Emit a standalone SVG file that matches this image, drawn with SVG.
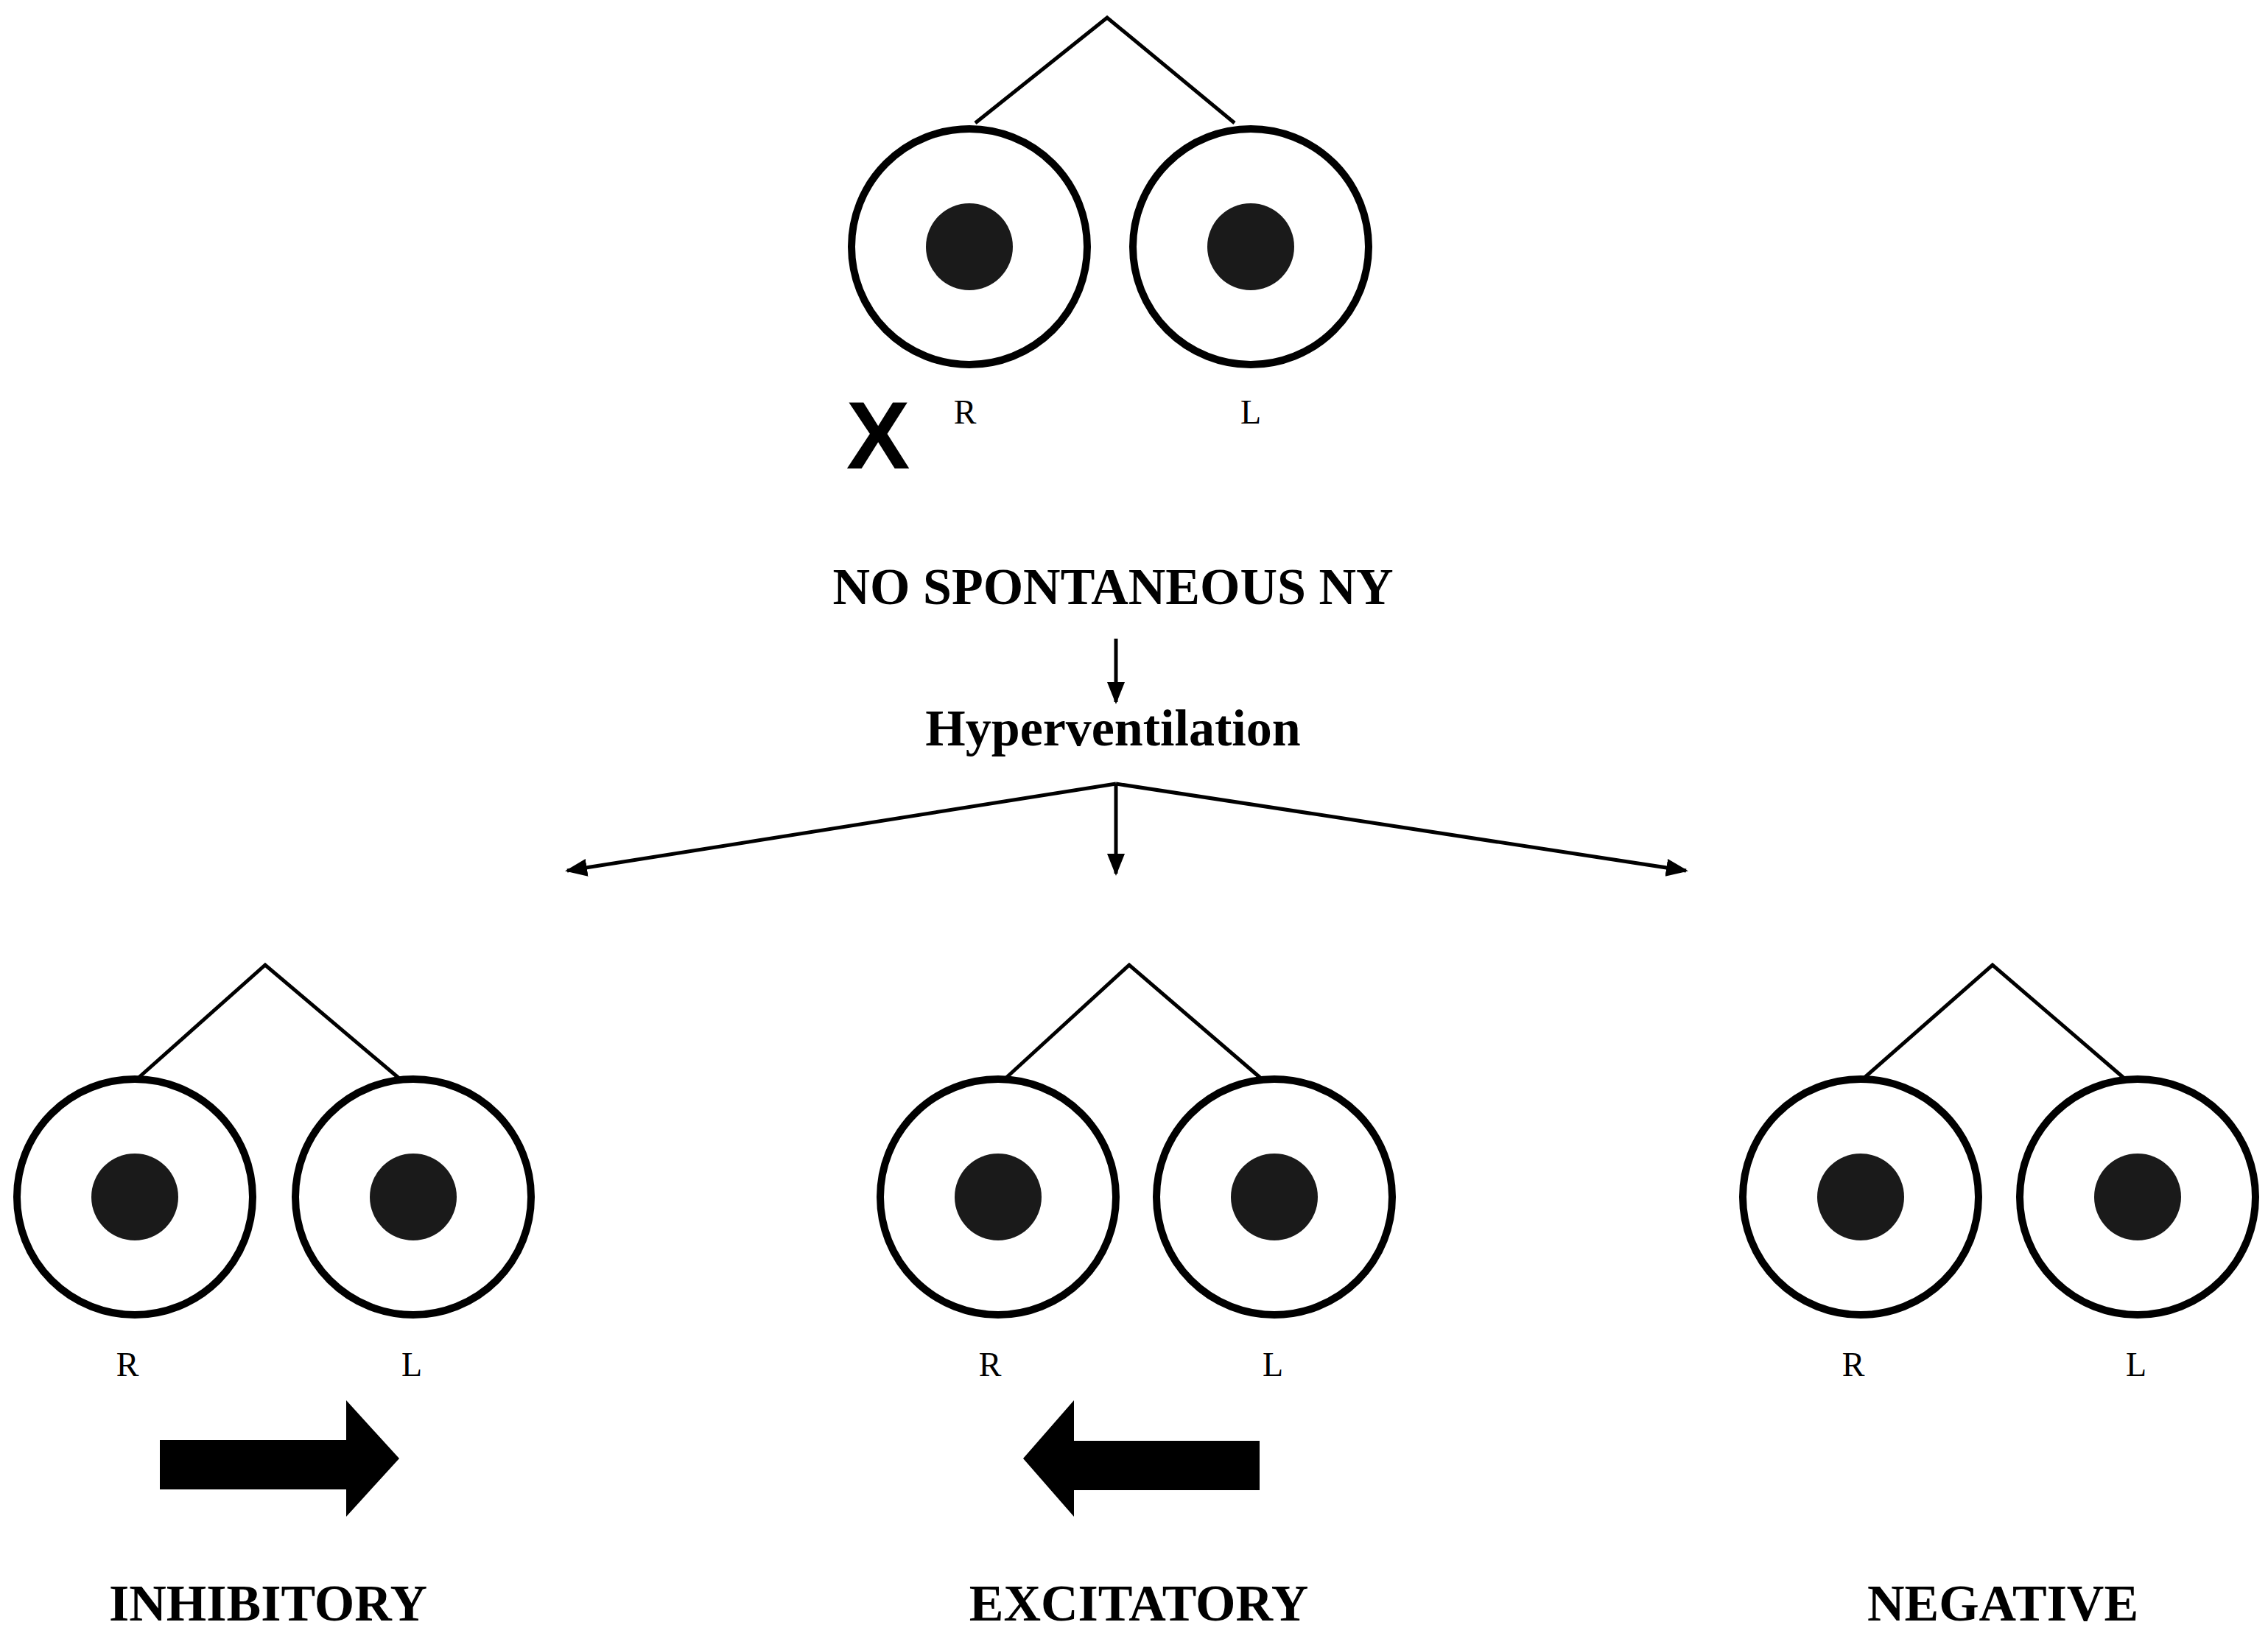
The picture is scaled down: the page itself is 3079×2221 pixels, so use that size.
<svg xmlns="http://www.w3.org/2000/svg" width="3079" height="2221" viewBox="0 0 3079 2221">
<style>
.eye{fill:#fff;stroke:#000;stroke-width:10}
.pup{fill:#1a1a1a}
.ln{stroke:#000;stroke-width:5;fill:none}
.lab{font-family:"Liberation Serif",serif;font-size:46px;text-anchor:middle}
.big{font-family:"Liberation Serif",serif;font-weight:bold;font-size:70px;text-anchor:middle}
</style>
<defs>
<marker id="ah" viewBox="0 0 10 10" refX="9" refY="5" markerWidth="7" markerHeight="7" markerUnits="userSpaceOnUse" orient="auto"><path d="M0,0 L10,5 L0,10 z"/></marker>
<marker id="a2" viewBox="0 0 10 10" refX="9" refY="5" markerWidth="6" markerHeight="6" orient="auto"><path d="M0,1 L10,5 L0,9 z"/></marker>
</defs>
<rect width="3079" height="2221" fill="#fff"/>
<g id="top">
<path class="ln" d="M1324,167 L1503,24 L1676,167"/>
<circle class="eye" cx="1316" cy="335" r="160"/><circle class="pup" cx="1316" cy="335" r="59"/>
<circle class="eye" cx="1698" cy="335" r="160"/><circle class="pup" cx="1698" cy="335" r="59"/>
<text x="1192" y="636" font-family="Liberation Sans,sans-serif" font-weight="bold" font-size="130" text-anchor="middle">X</text>
<text class="lab" x="1310" y="575">R</text><text class="lab" x="1698" y="575">L</text>
<text class="big" x="1511" y="820">NO SPONTANEOUS NY</text>
<text class="big" x="1511" y="1012">Hyperventilation</text>
</g>
<g id="connectors">
<line class="ln" x1="1515" y1="867" x2="1515" y2="953" marker-end="url(#a2)"/>
<line class="ln" x1="1515" y1="1064" x2="770" y2="1182" marker-end="url(#a2)"/>
<line class="ln" x1="1515" y1="1064" x2="1515" y2="1186" marker-end="url(#a2)"/>
<line class="ln" x1="1515" y1="1064" x2="2289" y2="1182" marker-end="url(#a2)"/>
</g>
<g id="inhibitory">
<path class="ln" d="M187,1464 L360,1310 L542,1464"/>
<circle class="eye" cx="183" cy="1625" r="160"/><circle class="pup" cx="183" cy="1625" r="59"/>
<circle class="eye" cx="561" cy="1625" r="160"/><circle class="pup" cx="561" cy="1625" r="59"/>
<text class="lab" x="173" y="1868">R</text><text class="lab" x="559" y="1868">L</text>
<path d="M217,1955 L470,1955 L470,1901 L542,1980 L470,2059 L470,2022 L217,2022 z"/>
<text class="big" x="364" y="2200">INHIBITORY</text>
</g>
<g id="excitatory">
<path class="ln" d="M1365,1464 L1533,1310 L1712,1464"/>
<circle class="eye" cx="1355" cy="1625" r="160"/><circle class="pup" cx="1355" cy="1625" r="59"/>
<circle class="eye" cx="1730" cy="1625" r="160"/><circle class="pup" cx="1730" cy="1625" r="59"/>
<text class="lab" x="1344" y="1868">R</text><text class="lab" x="1728" y="1868">L</text>
<path d="M1710,1956 L1458,1956 L1458,1901 L1389,1980 L1458,2059 L1458,2023 L1710,2023 z"/>
<text class="big" x="1546" y="2200">EXCITATORY</text>
</g>
<g id="negative">
<path class="ln" d="M2530,1464 L2705,1310 L2884,1464"/>
<circle class="eye" cx="2526" cy="1625" r="160"/><circle class="pup" cx="2526" cy="1625" r="59"/>
<circle class="eye" cx="2902" cy="1625" r="160"/><circle class="pup" cx="2902" cy="1625" r="59"/>
<text class="lab" x="2516" y="1868">R</text><text class="lab" x="2900" y="1868">L</text>
<text class="big" x="2719" y="2200">NEGATIVE</text>
</g>
</svg>
